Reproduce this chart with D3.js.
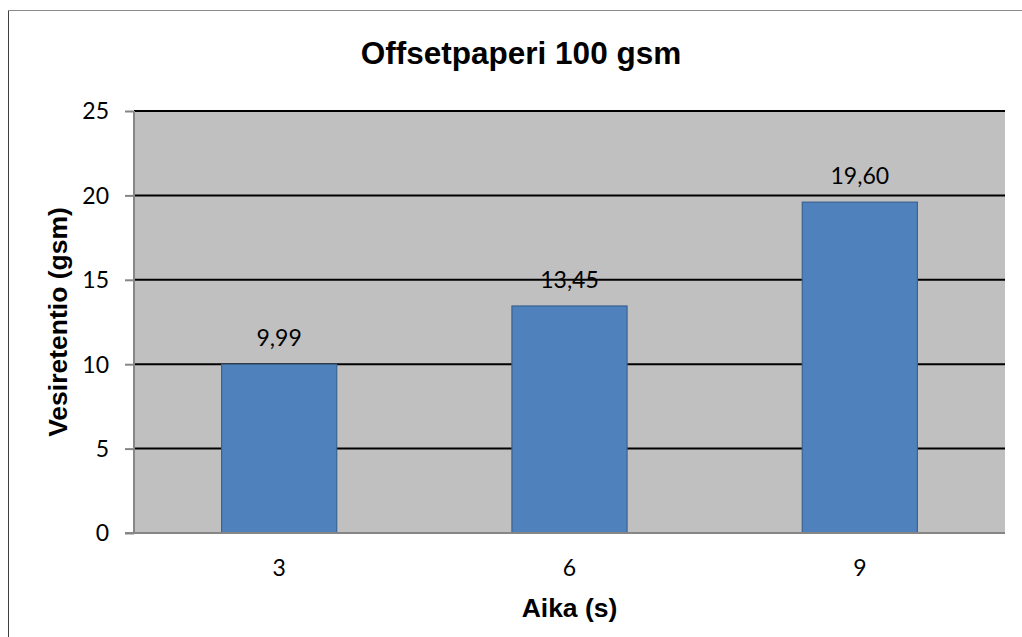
<!DOCTYPE html>
<html>
<head>
<meta charset="utf-8">
<script src="https://cdn.jsdelivr.net/npm/d3@7"></script>
<style>
  html, body { margin: 0; padding: 0; background: #fff; }
  svg { display: block; }
</style>
</head>
<body>
<svg id="chart" width="1022" height="637"></svg>
<script>
// Water retention of 100 gsm offset paper by exposure time
const chartTitle = "Offsetpaperi 100 gsm";
const xTitle = "Aika (s)";
const yTitle = "Vesiretentio (gsm)";
const times = ["3", "6", "9"];
const retention = [9.99, 13.45, 19.60];
const yTicks = [0, 5, 10, 15, 20, 25];

const W = 1022, H = 637;
const plot = { left: 134, right: 1005, top: 111, bottom: 533 };
const tickFont = "Lato, 'Open Sans', sans-serif";
const boldFont = "'Liberation Sans', Arial, sans-serif";

const svg = d3.select("#chart");

// outer chart frame
svg.append("line").attr("x1", 8.5).attr("x2", 8.5).attr("y1", 10).attr("y2", H)
  .attr("stroke", "#404040").attr("stroke-width", 1);
svg.append("line").attr("x1", 8).attr("x2", W).attr("y1", 10.5).attr("y2", 10.5)
  .attr("stroke", "#8c8c8c").attr("stroke-width", 1);

const x = d3.scaleBand()
  .domain(times)
  .range([plot.left, plot.right])
  .paddingInner(0.6)
  .paddingOuter(0.3);

const y = d3.scaleLinear()
  .domain([0, 25])
  .range([plot.bottom, plot.top]);

// plot background
svg.append("rect")
  .attr("x", plot.left).attr("y", plot.top)
  .attr("width", plot.right - plot.left).attr("height", plot.bottom - plot.top)
  .attr("fill", "#c0c0c0");

// horizontal gridlines
svg.append("g")
  .selectAll("line")
  .data(yTicks.filter(d => d > 0))
  .join("line")
  .attr("x1", plot.left).attr("x2", plot.right)
  .attr("y1", d => y(d)).attr("y2", d => y(d))
  .attr("stroke", "#000").attr("stroke-width", 2);

// bars
svg.append("g")
  .selectAll("rect")
  .data(retention)
  .join("rect")
  .attr("x", (d, i) => x(times[i]) + 0.5)
  .attr("y", d => y(d))
  .attr("width", x.bandwidth() - 1)
  .attr("height", d => y(0) - y(d))
  .attr("fill", "#4f81bd")
  .attr("stroke", "#3a6393")
  .attr("stroke-width", 1.2);

// value labels
const fmt = v => d3.format(".2f")(v).replace(".", ",");
svg.append("g")
  .selectAll("text")
  .data(retention)
  .join("text")
  .attr("x", (d, i) => x(times[i]) + x.bandwidth() / 2)
  .attr("y", d => y(d) - 18)
  .attr("text-anchor", "middle")
  .attr("font-family", tickFont)
  .attr("font-size", 23)
  .attr("fill", "#000")
  .text(fmt);

// y axis
const yAxis = svg.append("g")
  .attr("transform", `translate(${plot.left},0)`)
  .call(d3.axisLeft(y).tickValues(yTicks).tickSize(9).tickPadding(16).tickFormat(d3.format("d")));
yAxis.select(".domain").attr("stroke", "#868686").attr("stroke-width", 2)
  .attr("d", `M0,${plot.top}V${plot.bottom}`);
yAxis.selectAll(".tick line").attr("stroke", "#868686").attr("stroke-width", 2);
yAxis.selectAll(".tick text")
  .attr("font-family", tickFont).attr("font-size", 23).attr("fill", "#000")
  .attr("dy", "0.34em");

// x axis
const xAxis = svg.append("g")
  .attr("transform", `translate(0,${plot.bottom})`)
  .call(d3.axisBottom(x).tickSize(0).tickPadding(27));
xAxis.select(".domain").attr("stroke", "#868686").attr("stroke-width", 2)
  .attr("d", `M${plot.left - 9},0H${plot.right}`);
xAxis.selectAll(".tick text")
  .attr("font-family", tickFont).attr("font-size", 23).attr("fill", "#000");

// titles
svg.append("text")
  .attr("x", 521).attr("y", 64)
  .attr("text-anchor", "middle")
  .attr("font-family", boldFont).attr("font-weight", "bold").attr("font-size", 31.5)
  .text(chartTitle);

svg.append("text")
  .attr("x", (plot.left + plot.right) / 2).attr("y", 617)
  .attr("text-anchor", "middle")
  .attr("font-family", boldFont).attr("font-weight", "bold").attr("font-size", 26.5)
  .text(xTitle);

svg.append("text")
  .attr("transform", `translate(67,${(plot.top + plot.bottom) / 2}) rotate(-90)`)
  .attr("text-anchor", "middle")
  .attr("font-family", boldFont).attr("font-weight", "bold").attr("font-size", 26.5)
  .text(yTitle);
</script>
</body>
</html>
